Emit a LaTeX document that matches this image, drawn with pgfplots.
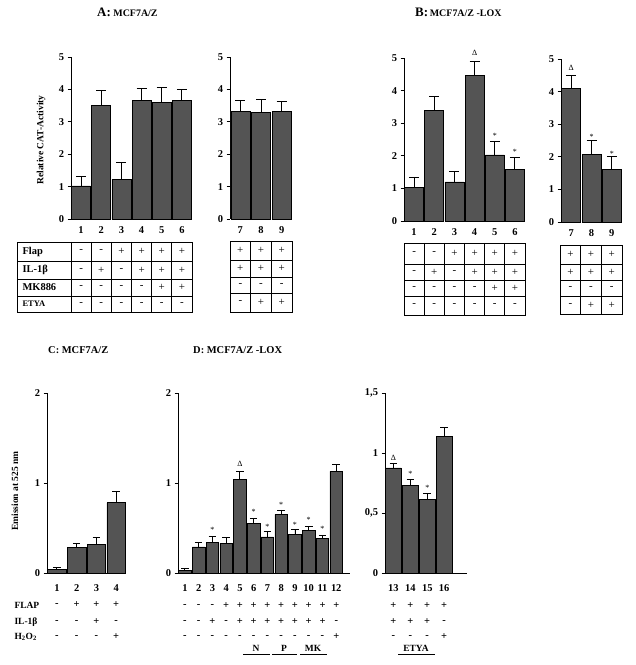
\documentclass[border=0pt]{standalone}
\usepackage{fontspec}
\setmainfont{Liberation Serif}
\usepackage{pgfplots}
\pgfplotsset{compat=1.18}
\definecolor{barfill}{gray}{0.33}
\pgfplotsset{
  myax/.style={
    scale only axis, anchor=south west,
    axis y line=left, axis x line=bottom,
    axis line style={-, line width=0.8pt},
    ymin=0, ybar, clip=false,
    tick align=outside, major tick length=3.5bp,
    ytick style={line width=0.8pt, black},
    xtick style={draw=none},
    tick label style={font=\bfseries\fontsize{10.5}{12}\selectfont},
    /pgf/number format/assume math mode=true,
    error bars/y dir=plus, error bars/y explicit,
    error bars/error bar style={line width=0.9pt, black},
    error bars/error mark options={rotate=90, line width=0.9pt, black, mark size=5bp},
  },
  barst/.style={fill=barfill, draw=black, line width=0.6pt},
  hidex/.style={x axis line style={draw=none}, xticklabel style={yshift=-1bp}},
  smallmark/.style={error bars/error mark options={rotate=90, line width=0.8pt, black, mark size=3.8bp}},
}
\newcommand{\Lab}{\bfseries\fontsize{10.5}{12}\selectfont}
\newcommand{\Sgn}{\fontsize{11}{12}\selectfont}
\newcommand{\SgnB}{\bfseries\fontsize{10.5}{12}\selectfont}
\newcommand{\Ann}{\fontsize{8}{9}\selectfont}
\begin{document}
\begin{tikzpicture}[x=1bp,y=1bp]
\path[use as bounding box] (0,0) rectangle (636,665);

% ---------- titles ----------
\node[anchor=base west, font=\bfseries, inner sep=0] at (97,665-17) {{\fontsize{13}{14}\selectfont A:} {\fontsize{10}{12}\selectfont MCF7A/Z}};
\node[anchor=base west, font=\bfseries, inner sep=0] at (415,665-17) {{\fontsize{13}{14}\selectfont B:}\,{\fontsize{10}{12}\selectfont MCF7A/Z -LOX}};
\node[anchor=base west, font=\bfseries\fontsize{10.5}{12}\selectfont, inner sep=0] at (48,665-354) {C: MCF7A/Z};
\node[anchor=base west, font=\bfseries\fontsize{10.5}{12}\selectfont, inner sep=0] at (193,665-354) {D: MCF7A/Z -LOX};

% ---------- panel A ----------
\node[rotate=90, font=\bfseries\fontsize{9.5}{10}\selectfont] at (41,665-140) {Relative CAT-Activity};
\begin{axis}[myax, hidex, at={(71bp,446bp)}, width=121bp, height=162bp, bar width=19bp,
  xmin=0.5, xmax=6.5, ymax=5, ytick={0,1,2,3,4,5}, xtick={1,2,3,4,5,6}]
\addplot[barst] table[x=x, y=y, y error=e] {
x y e
1 1.02 0.30
2 3.50 0.48
3 1.22 0.53
4 3.67 0.36
5 3.60 0.45
6 3.67 0.33
};
\end{axis}
\begin{axis}[myax, hidex, at={(230bp,446bp)}, width=62bp, height=162bp, bar width=19bp,
  xmin=6.5, xmax=9.5, ymax=5, ytick={0,1,2,3,4,5}, xtick={7,8,9}]
\addplot[barst] table[x=x, y=y, y error=e] {
x y e
7 3.33 0.32
8 3.28 0.42
9 3.33 0.30
};
\end{axis}

% table A left
\begin{scope}[line width=0.8pt]
\draw (17,665-242) rectangle (192,665-312);
\foreach \yy in {261,279,296} \draw (17,665-\yy) -- (192,665-\yy);
\foreach \k in {0,...,5} \draw ({71+\k*20.17},665-242) -- ({71+\k*20.17},665-312);
\end{scope}
\node[anchor=west, font=\Lab] at (19,665-251.5) {Flap};
\node[anchor=west, font=\Lab] at (19,665-270) {IL-1β};
\node[anchor=west, font=\Lab] at (19,665-287.5) {MK886};
\node[anchor=west, font=\bfseries\fontsize{8.5}{9}\selectfont] at (19,665-304) {ETYA};
\foreach \s [count=\i] in {-,-,+,+,+,+} \node[font=\Sgn] at ({71+(\i-0.5)*20.17},665-251.5) {\s};
\foreach \s [count=\i] in {-,+,-,+,+,+} \node[font=\Sgn] at ({71+(\i-0.5)*20.17},665-270) {\s};
\foreach \s [count=\i] in {-,-,-,-,+,+} \node[font=\Sgn] at ({71+(\i-0.5)*20.17},665-287.5) {\s};
\foreach \s [count=\i] in {-,-,-,-,-,-} \node[font=\Sgn] at ({71+(\i-0.5)*20.17},665-304) {\s};
% table A right
\begin{scope}[line width=0.8pt]
\draw (230,665-241) rectangle (292,665-312);
\foreach \yy in {260,277,293} \draw (230,665-\yy) -- (292,665-\yy);
\foreach \k in {1,2} \draw ({230+\k*20.67},665-241) -- ({230+\k*20.67},665-312);
\end{scope}
\foreach \s [count=\i] in {+,+,+} \node[font=\Sgn] at ({230+(\i-0.5)*20.67},665-250.5) {\s};
\foreach \s [count=\i] in {+,+,+} \node[font=\Sgn] at ({230+(\i-0.5)*20.67},665-268.5) {\s};
\foreach \s [count=\i] in {-,-,-} \node[font=\Sgn] at ({230+(\i-0.5)*20.67},665-285) {\s};
\foreach \s [count=\i] in {-,+,+} \node[font=\Sgn] at ({230+(\i-0.5)*20.67},665-302.5) {\s};

% ---------- panel B ----------
\begin{axis}[myax, hidex, at={(404bp,444bp)}, width=121bp, height=163bp, bar width=19bp,
  xmin=0.5, xmax=6.5, ymax=5, ytick={0,1,2,3,4,5}, xtick={1,2,3,4,5,6}]
\addplot[barst] table[x=x, y=y, y error=e] {
x y e
1 1.02 0.33
2 3.40 0.42
3 1.20 0.32
4 4.47 0.43
5 2.03 0.42
6 1.58 0.37
};
\node[font=\Ann] at (axis cs:4,5.16) {Δ};
\node[font=\Ann] at (axis cs:5,2.62) {*};
\node[font=\Ann] at (axis cs:6,2.13) {*};
\end{axis}
\begin{axis}[myax, hidex, at={(561bp,443bp)}, width=61bp, height=163bp, bar width=19bp,
  xmin=6.5, xmax=9.5, ymax=5, ytick={0,1,2,3,4,5}, xtick={7,8,9}]
\addplot[barst] table[x=x, y=y, y error=e] {
x y e
7 4.10 0.40
8 2.08 0.42
9 1.62 0.38
};
\node[font=\Ann] at (axis cs:7,4.72) {Δ};
\node[font=\Ann] at (axis cs:8,2.62) {*};
\node[font=\Ann] at (axis cs:9,2.10) {*};
\end{axis}

% table B left
\begin{scope}[line width=0.8pt]
\draw (404,665-243) rectangle (525,665-315);
\foreach \yy in {264,280,296} \draw (404,665-\yy) -- (525,665-\yy);
\foreach \k in {1,...,5} \draw ({404+\k*20.17},665-243) -- ({404+\k*20.17},665-315);
\end{scope}
\foreach \s [count=\i] in {-,-,+,+,+,+} \node[font=\Sgn] at ({404+(\i-0.5)*20.17},665-253.5) {\s};
\foreach \s [count=\i] in {-,+,-,+,+,+} \node[font=\Sgn] at ({404+(\i-0.5)*20.17},665-272) {\s};
\foreach \s [count=\i] in {-,-,-,-,+,+} \node[font=\Sgn] at ({404+(\i-0.5)*20.17},665-288) {\s};
\foreach \s [count=\i] in {-,-,-,-,-,-} \node[font=\Sgn] at ({404+(\i-0.5)*20.17},665-305.5) {\s};
% table B right
\begin{scope}[line width=0.8pt]
\draw (560,665-245) rectangle (622,665-314);
\foreach \yy in {264,280,296} \draw (560,665-\yy) -- (622,665-\yy);
\foreach \k in {1,2} \draw ({560+\k*20.67},665-245) -- ({560+\k*20.67},665-314);
\end{scope}
\foreach \s [count=\i] in {+,+,+} \node[font=\Sgn] at ({560+(\i-0.5)*20.67},665-254.5) {\s};
\foreach \s [count=\i] in {+,+,+} \node[font=\Sgn] at ({560+(\i-0.5)*20.67},665-272) {\s};
\foreach \s [count=\i] in {-,-,-} \node[font=\Sgn] at ({560+(\i-0.5)*20.67},665-288) {\s};
\foreach \s [count=\i] in {-,+,+} \node[font=\Sgn] at ({560+(\i-0.5)*20.67},665-305) {\s};

% ---------- panel C ----------
\node[rotate=90, font=\bfseries\fontsize{9.5}{10}\selectfont] at (15,665-491) {Emission at 525 nm};
\begin{axis}[myax, smallmark, at={(47bp,92bp)}, width=79bp, height=180bp, bar width=18.5bp,
  xmin=0.5, xmax=4.5, ymax=2, ytick={0,1,2}, xtick={1,2,3,4}, xticklabel style={yshift=-5bp}]
\addplot[barst] table[x=x, y=y, y error=e] {
x y e
1 0.04 0.02
2 0.28 0.05
3 0.32 0.07
4 0.78 0.13
};
\end{axis}
\node[anchor=west, font=\bfseries\fontsize{9.5}{10}\selectfont] at (11,665-605) {FLAP};
\node[anchor=west, font=\bfseries\fontsize{9.5}{10}\selectfont] at (11,665-622) {IL-1β};
\node[anchor=west, font=\bfseries\fontsize{9.5}{10}\selectfont] at (11,665-637) {H\textsubscript{2}O\textsubscript{2}};
\foreach \s [count=\i] in {-,+,+,+} \node[font=\SgnB] at ({47+(\i-0.5)*19.75},665-605) {\s};
\foreach \s [count=\i] in {-,-,+,-} \node[font=\SgnB] at ({47+(\i-0.5)*19.75},665-622) {\s};
\foreach \s [count=\i] in {-,-,-,+} \node[font=\SgnB] at ({47+(\i-0.5)*19.75},665-637) {\s};

% ---------- panel D ----------
\begin{axis}[myax, smallmark, at={(178bp,92bp)}, width=172bp, height=180bp, bar width=12.5bp,
  xmin=0.5, xmax=13.0, ymax=2, ytick={0,1,2}, xtick={1,...,12}, xticklabel style={yshift=-5bp}]
\addplot[barst] table[x=x, y=y, y error=e] {
x y e
1 0.03 0.02
2 0.29 0.05
3 0.34 0.07
4 0.33 0.06
5 1.04 0.09
6 0.55 0.06
7 0.40 0.06
8 0.65 0.05
9 0.43 0.05
10 0.47 0.05
11 0.38 0.04
12 1.13 0.08
};
\node[font=\Ann] at (axis cs:3,0.48) {*};
\node[font=\Ann] at (axis cs:5,1.21) {Δ};
\node[font=\Ann] at (axis cs:6,0.68) {*};
\node[font=\Ann] at (axis cs:7,0.51) {*};
\node[font=\Ann] at (axis cs:8,0.76) {*};
\node[font=\Ann] at (axis cs:9,0.54) {*};
\node[font=\Ann] at (axis cs:10,0.59) {*};
\node[font=\Ann] at (axis cs:11,0.49) {*};
\end{axis}
\foreach \s [count=\i] in {-,-,-,+,+,+,+,+,+,+,+,+} \node[font=\SgnB] at ({178+(\i-0.5)*13.76},665-606) {\s};
\foreach \s [count=\i] in {-,-,+,-,+,+,+,+,+,+,+,-} \node[font=\SgnB] at ({178+(\i-0.5)*13.76},665-622) {\s};
\foreach \s [count=\i] in {-,-,-,-,-,-,-,-,-,-,-,+} \node[font=\SgnB] at ({178+(\i-0.5)*13.76},665-637) {\s};
\node[font=\bfseries\fontsize{9.5}{10}\selectfont, anchor=base] at (256,665-652) {N};
\node[font=\bfseries\fontsize{9.5}{10}\selectfont, anchor=base] at (284,665-652) {P};
\node[font=\bfseries\fontsize{9.5}{10}\selectfont, anchor=base] at (313,665-652) {MK};
\draw[line width=0.7pt] (243,665-654) -- (270,665-654);
\draw[line width=0.7pt] (272,665-654) -- (297,665-654);
\draw[line width=0.7pt] (300,665-654) -- (327,665-654);

\begin{axis}[myax, smallmark, at={(385bp,92bp)}, width=82bp, height=180bp, bar width=15.5bp,
  xmin=12.5, xmax=17.35, ymax=1.5, ytick={0,0.5,1,1.5}, yticklabels={0,{0,5},1,{1,5}},
  xtick={13,14,15,16}, xticklabel style={yshift=-5bp}]
\addplot[barst] table[x=x, y=y, y error=e] {
x y e
13 0.875 0.035
14 0.73 0.05
15 0.61 0.05
16 1.14 0.07
};
\node[font=\Ann] at (axis cs:13,0.96) {Δ};
\node[font=\Ann] at (axis cs:14,0.83) {*};
\node[font=\Ann] at (axis cs:15,0.71) {*};
\end{axis}
\foreach \s [count=\i] in {+,+,+,+} \node[font=\SgnB] at ({385+(\i-0.5)*16.87},665-606) {\s};
\foreach \s [count=\i] in {+,+,+,-} \node[font=\SgnB] at ({385+(\i-0.5)*16.87},665-622) {\s};
\foreach \s [count=\i] in {-,-,-,+} \node[font=\SgnB] at ({385+(\i-0.5)*16.87},665-637) {\s};
\node[font=\bfseries\fontsize{9.5}{10}\selectfont, anchor=base] at (416,665-652) {ETYA};
\draw[line width=0.7pt] (398,665-654) -- (435,665-654);
\end{tikzpicture}
\end{document}
